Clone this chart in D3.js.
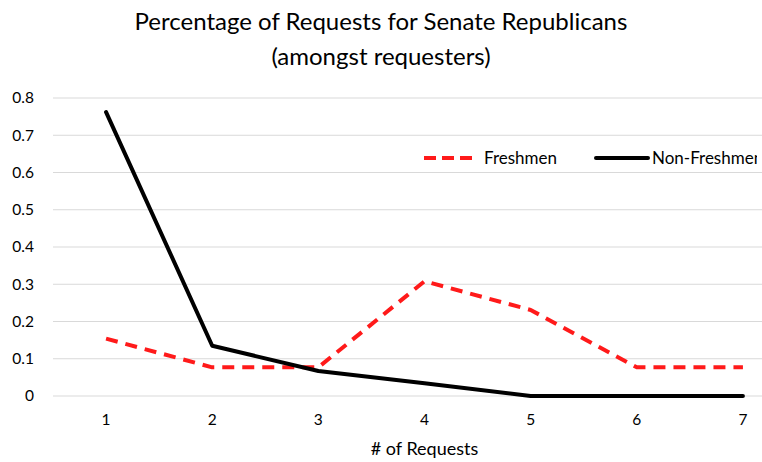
<!DOCTYPE html>
<html><head><meta charset="utf-8">
<script src="https://cdn.jsdelivr.net/npm/d3@7"></script>
<style>body{margin:0;background:#fff}svg{display:block}</style>
</head><body>
<svg id="c" width="762" height="462"></svg>
<script>
const categories = [1,2,3,4,5,6,7];
const freshmen = [0.154, 0.077, 0.077, 0.308, 0.231, 0.077, 0.077];
const nonFreshmen = [0.762, 0.135, 0.067, 0.034, 0, 0, 0];
const yTicks = [0,0.1,0.2,0.3,0.4,0.5,0.6,0.7,0.8];
const seriesNames = ["Freshmen","Non-Freshmen"];
const titleLines = ["Percentage of Requests for Senate Republicans","(amongst requesters)"];
const xTitle = "# of Requests";

(function(){
const svg = d3.select("#c");
const W = 762, H = 462;
const font = "Lato, 'Open Sans', sans-serif";
const pLeft = 53, pRight = 796, pTop = 98, pBottom = 396;

const x = d3.scalePoint().domain(categories).range([pLeft, pRight]).padding(0.5);
const y = d3.scaleLinear().domain([0,0.8]).range([pBottom, pTop]);

const clip = svg.append("defs").append("clipPath").attr("id","cl");
clip.append("rect").attr("x",0).attr("y",0).attr("width",757).attr("height",H);

svg.append("g").selectAll("line").data(yTicks).join("line")
  .attr("x1", pLeft).attr("x2", W).attr("y1", d=>y(d)).attr("y2", d=>y(d))
  .attr("stroke","#d9d9d9").attr("stroke-width",1.2);

svg.append("g").selectAll("text").data(yTicks).join("text")
  .attr("x", 34).attr("y", d=>y(d)).attr("dy","0.35em")
  .attr("text-anchor","end").attr("font-family",font).attr("font-size",15.5).attr("fill","#000")
  .text(d=> d===0 ? "0" : d3.format(".1f")(d));

svg.append("g").selectAll("text").data(categories).join("text")
  .attr("x", d=>x(d)).attr("y", 420).attr("dy","0.35em")
  .attr("text-anchor","middle").attr("font-family",font).attr("font-size",15.5).attr("fill","#000")
  .text(d=>d);

svg.append("text").attr("x", (pLeft+pRight)/2).attr("y", 449).attr("dy","0.35em")
  .attr("text-anchor","middle").attr("font-family",font).attr("font-size",18).attr("fill","#000")
  .text(xTitle);

svg.append("g").selectAll("text").data(titleLines).join("text")
  .attr("x", 381).attr("y", (d,i)=> 22 + i*35).attr("dy","0.35em")
  .attr("text-anchor","middle").attr("font-family",font).attr("font-size",24).attr("fill","#000")
  .text(d=>d);

const line = d3.line().x((d,i)=>x(categories[i])).y(d=>y(d));

svg.append("path").datum(freshmen).attr("d", line)
  .attr("fill","none").attr("stroke","#ff1a1a").attr("stroke-width",4)
  .attr("stroke-dasharray","12,8").attr("stroke-linejoin","round");

svg.append("path").datum(nonFreshmen).attr("d", line)
  .attr("fill","none").attr("stroke","#000").attr("stroke-width",4)
  .attr("stroke-linejoin","round").attr("stroke-linecap","round");

const lg = svg.append("g").attr("clip-path","url(#cl)");
lg.append("line").attr("x1",424).attr("x2",473).attr("y1",158).attr("y2",158)
  .attr("stroke","#ff1a1a").attr("stroke-width",4).attr("stroke-dasharray","12,6");
lg.append("text").attr("x",484).attr("y",158).attr("dy","0.35em")
  .attr("font-family",font).attr("font-size",17).attr("fill","#000").text(seriesNames[0]);
lg.append("line").attr("x1",596).attr("x2",648).attr("y1",158).attr("y2",158)
  .attr("stroke","#000").attr("stroke-width",4).attr("stroke-linecap","round");
lg.append("text").attr("x",652).attr("y",158).attr("dy","0.35em")
  .attr("font-family",font).attr("font-size",17).attr("fill","#000").text(seriesNames[1]);
})();
</script>
</body></html>
